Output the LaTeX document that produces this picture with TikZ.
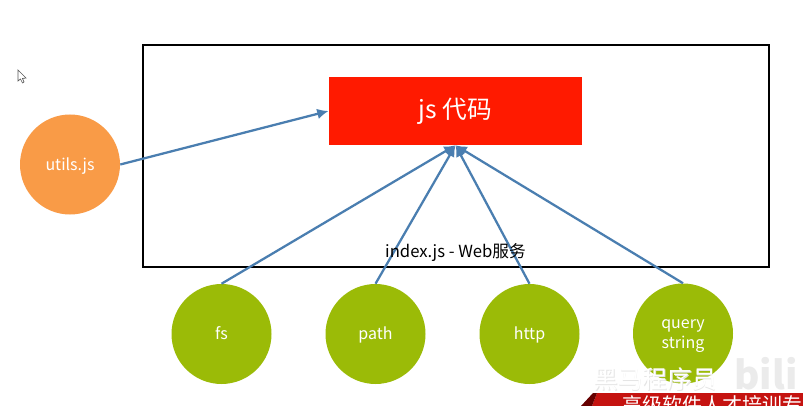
\documentclass[tikz,border=0pt]{standalone}
\usepackage{fontspec}
\setmainfont{Noto Sans CJK SC}
\definecolor{boxred}{HTML}{FF1A00}
\definecolor{circgreen}{HTML}{9BBB07}
\definecolor{circorange}{HTML}{F99B47}
\definecolor{arrowblue}{HTML}{4A7EB0}
\definecolor{bannerred}{HTML}{C51310}
\usetikzlibrary{arrows.meta}
\tikzset{
  x=0.75pt,y=-0.75pt,
  circ/.style={circle,minimum size=75pt,inner sep=0pt,text=white,align=center,font=\fontsize{12}{14}\selectfont},
  oneline/.style={text height=10.5pt,text depth=2pt},
  link/.style={draw=arrowblue,line width=1.7pt,-{Latex[length=8.5pt,width=8pt]}},
}
\begin{document}
\begin{tikzpicture}
\useasboundingbox (0,0) rectangle (803,406);
\fill[white] (0,0) rectangle (803,406);
\begin{scope}
\clip (0,0) rectangle (803,406);
\draw[black,line width=2.1pt] (143,45) rectangle (769,267);
\node[fill=boxred,minimum width=190pt,minimum height=51pt,inner sep=0pt,text=white,font=\fontsize{18.5}{22}\selectfont] (code) at (455.5,111) {js 代码};
\node[circ,oneline,fill=circorange] (utils) at (70,164.5) {utils.js};
\node[circ,oneline,fill=circgreen] (fs) at (221.5,334) {fs};
\node[circ,oneline,fill=circgreen] (path) at (375.5,334) {path};
\node[circ,oneline,fill=circgreen] (http) at (529.5,334) {http};
\node[circ,fill=circgreen,font=\fontsize{12}{14.5}\selectfont] (query) at (683,333.5) {\rule{0pt}{10.5pt}query\\string};
\draw[link] (utils.east) -- (code.west);
\draw[link] (fs.north) -- (code.south);
\draw[link] (path.north) -- (code.south);
\draw[link] (http.north) -- (code.south);
\draw[link] (query.north) -- (code.south);
\node[inner sep=0pt,font=\fontsize{12.5}{15}\selectfont] (title) at (455.5,253) {index.js - Web服务};
% mouse cursor
\draw[fill=white,draw=black!65,line width=0.5pt] (18,70) -- (18,81) -- (20.5,79) -- (22.5,83) -- (24,82) -- (22.5,78.5) -- (26,78) -- cycle;
% watermark
\node[inner sep=0pt,text=black!10,font=\fontsize{18.5}{20}\selectfont] (wmshadow) at (655.7,379.7) {黑马程序员};
\node[inner sep=0pt,text=white,font=\fontsize{18.5}{20}\selectfont] (wm) at (655,379) {黑马程序员};
\node[inner sep=0pt,text=black!8,font=\bfseries\fontsize{29}{32}\selectfont] (bili) at (766,374) {bili};
\fill[bannerred] (592,406) -- (597,393) -- (803,393) -- (803,406) -- cycle;
\fill[red!40!black] (581,406) -- (593,393) -- (597,393) -- (592,406) -- cycle;
\node[inner sep=0pt,anchor=west,text=white,font=\fontsize{15}{18}\selectfont] (slogan) at (622,405) {高级软件人才培训专};
\end{scope}
\end{tikzpicture}
\end{document}
